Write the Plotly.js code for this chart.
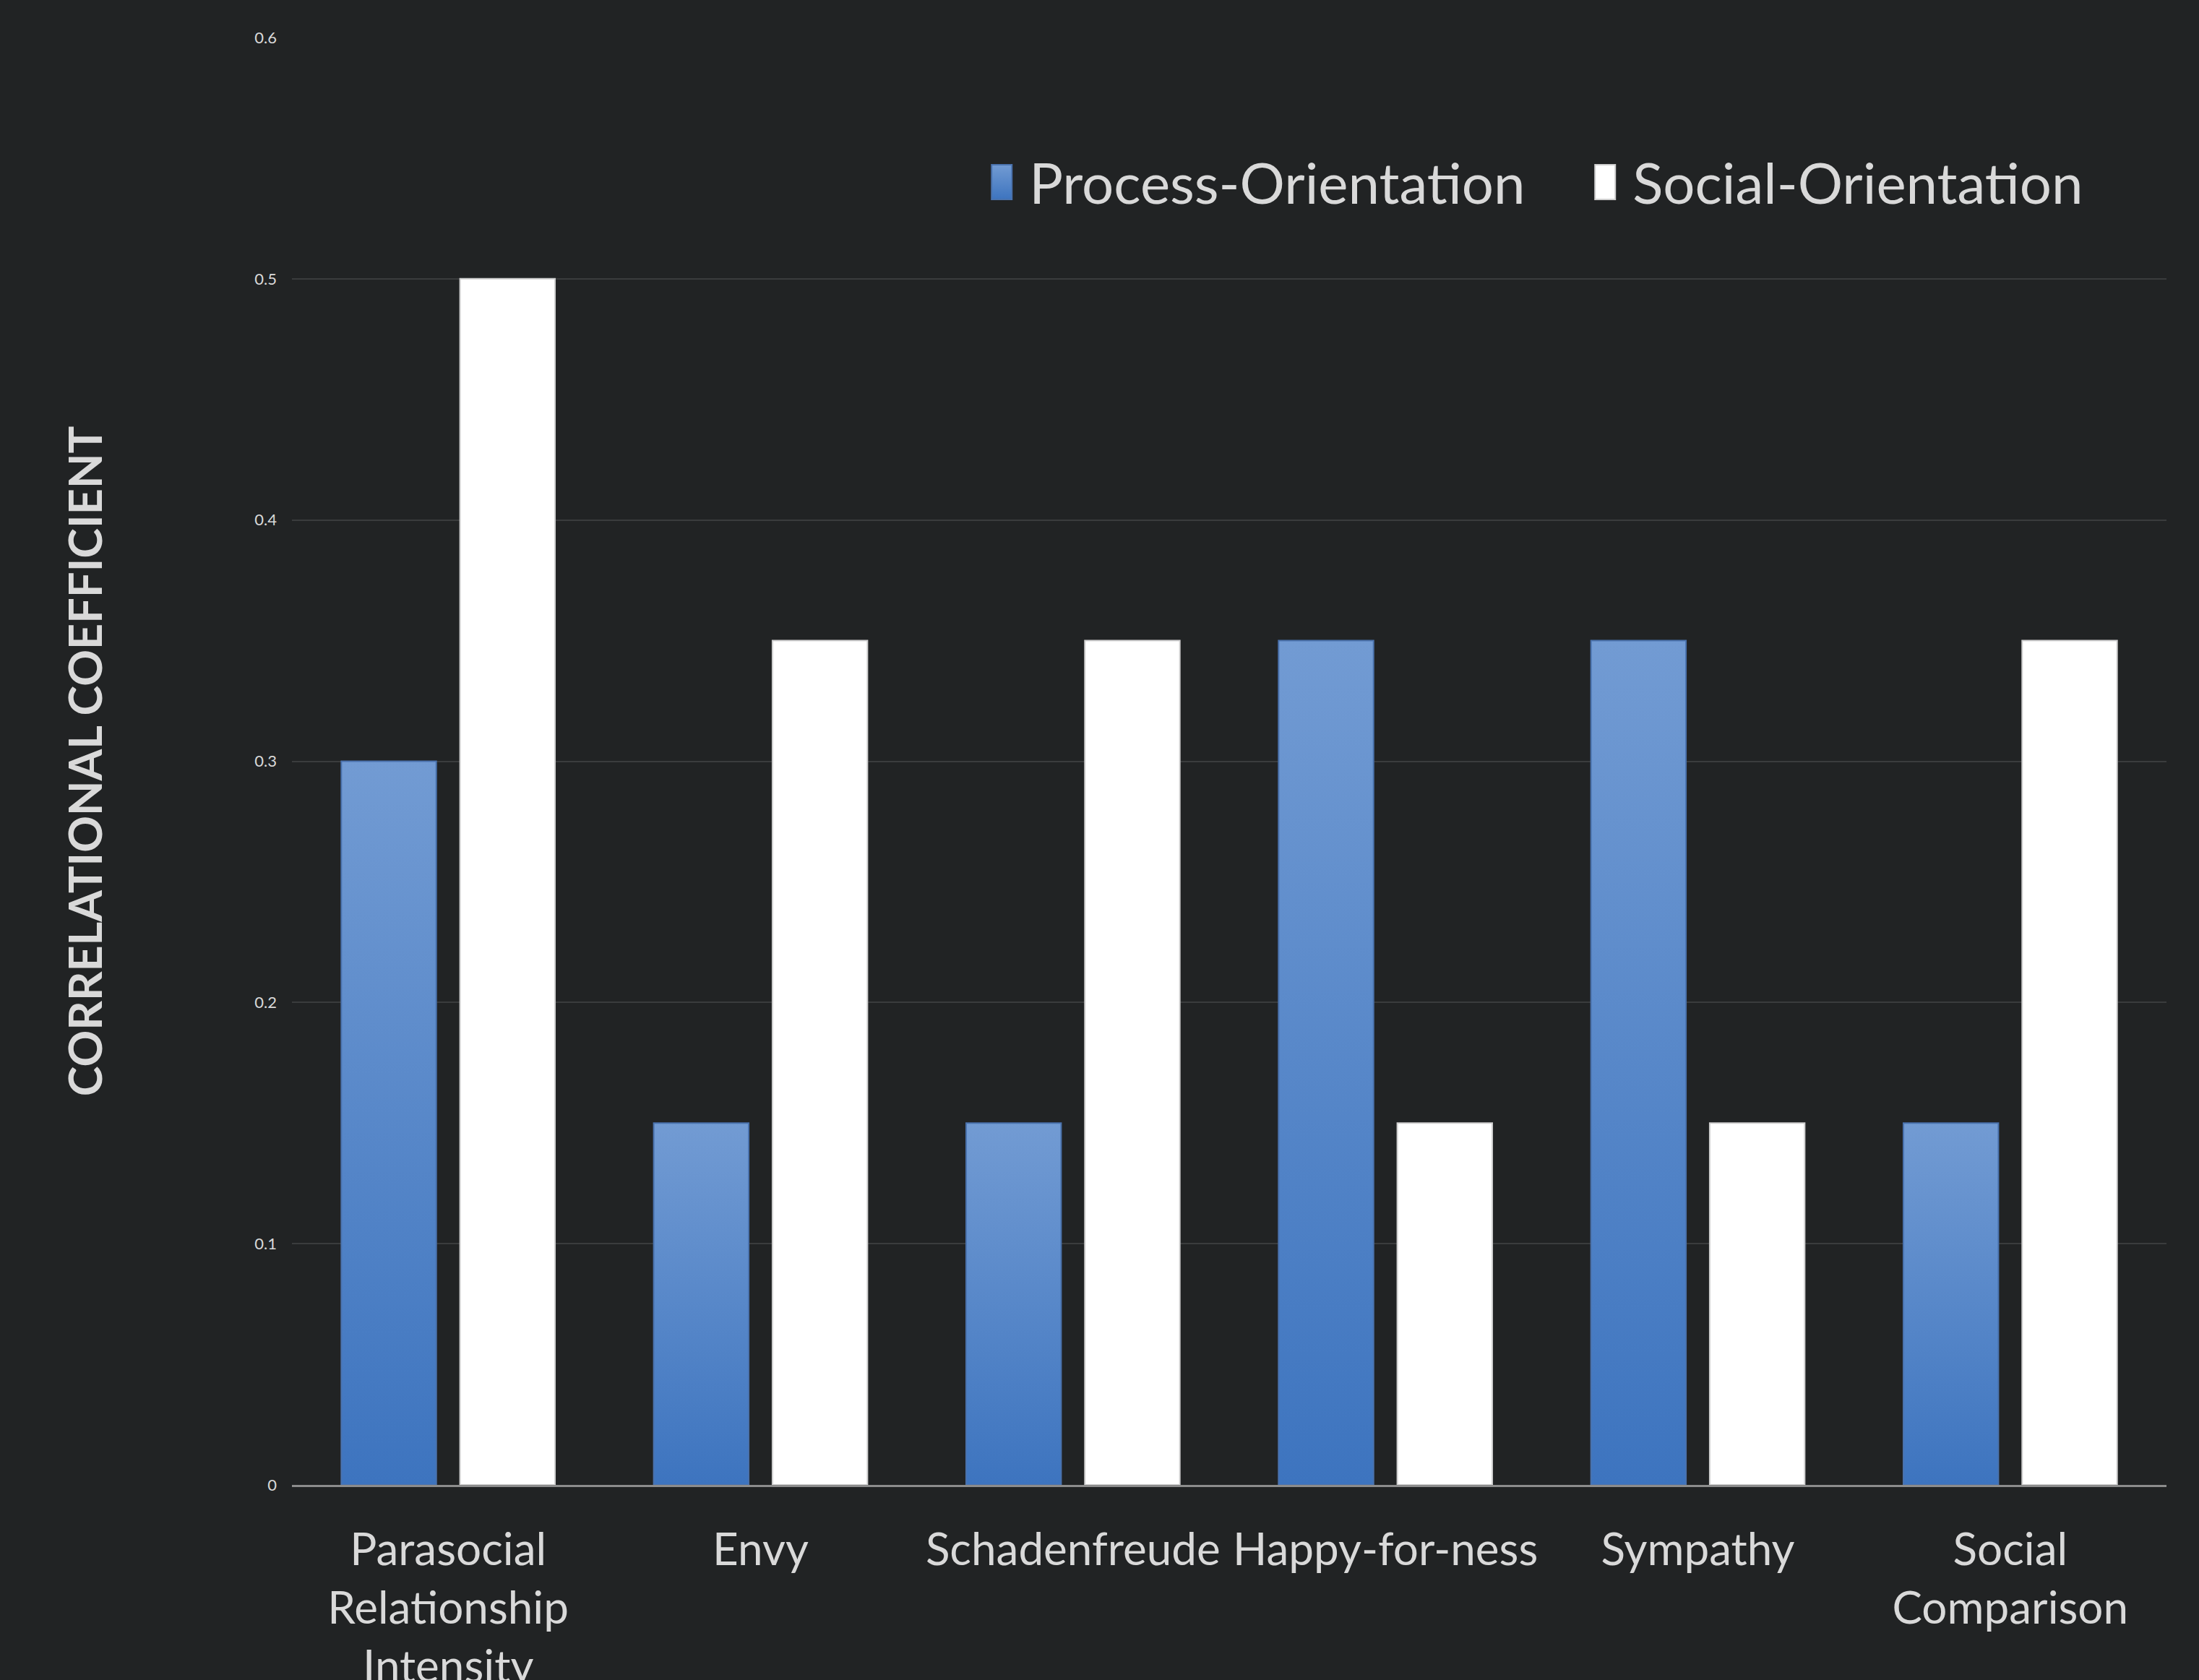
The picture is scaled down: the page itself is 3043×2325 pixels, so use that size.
<!DOCTYPE html>
<html>
<head>
<meta charset="utf-8">
<script src="https://cdn.plot.ly/plotly-3.0.1.min.js"></script>
<style>
  html, body { margin: 0; padding: 0; background: #212324; }
  #chart { width: 3043px; height: 2325px; }
</style>
</head>
<body>
<div id="chart"></div>
<script>
const categories = [
  "Parasocial<br>Relationship<br>Intensity",
  "Envy",
  "Schadenfreude",
  "Happy-for-ness",
  "Sympathy",
  "Social<br>Comparison"
];
const processOrientation = [0.30, 0.15, 0.15, 0.35, 0.35, 0.15];
const socialOrientation  = [0.50, 0.35, 0.35, 0.15, 0.15, 0.35];
const yTickValues = [0, 0.1, 0.2, 0.3, 0.4, 0.5, 0.6];
const yTickLabels = ["0", "0.1", "0.2", "0.3", "0.4", "0.5", "0.6"];

const textColor = "#d9d9d9";

const traces = [
  {
    type: "bar",
    name: "Process-Orientation",
    x: categories,
    y: processOrientation,
    marker: { color: "#5586c9", line: { color: "#4a72ad", width: 2 } },
    hoverinfo: "skip"
  },
  {
    type: "bar",
    name: "Social-Orientation",
    x: categories,
    y: socialOrientation,
    marker: { color: "#ffffff", line: { color: "#cfcfcf", width: 2 } },
    hoverinfo: "skip"
  }
];

const layout = {
  width: 3043,
  height: 2325,
  paper_bgcolor: "#212324",
  plot_bgcolor: "rgba(0,0,0,0)",
  margin: { l: 404, r: 45, t: 52, b: 270, pad: 0 },
  barmode: "group",
  bargap: 0.24,
  bargroupgap: 0.2,
  font: { family: "Lato, 'Open Sans', sans-serif", color: textColor },
  showlegend: true,
  legend: {
    orientation: "h",
    x: 0.364,
    xanchor: "left",
    y: 0.90,
    yanchor: "middle",
    bgcolor: "rgba(0,0,0,0)",
    font: { size: 78, color: textColor, family: "Lato, sans-serif" },
    itemwidth: 66,
    entrywidth: 754,
    traceorder: "normal"
  },
  xaxis: {
    type: "category",
    tickfont: { size: 62, color: textColor, family: "Lato, sans-serif" },
    showgrid: false,
    showline: true,
    linecolor: "#8c8c8c",
    linewidth: 3,
    ticks: "",
    ticklabelstandoff: 34,
    zeroline: false,
    fixedrange: true
  },
  yaxis: {
    range: [0, 0.6],
    tickvals: yTickValues,
    ticktext: yTickLabels,
    tickfont: { size: 22, color: textColor, family: "Lato, sans-serif" },
    showgrid: true,
    gridcolor: "#3a3c3d",
    gridwidth: 2,
    zeroline: false,
    showline: false,
    ticks: "",
    ticklabelstandoff: 20,
    title: {
      text: "CORRELATIONAL COEFFICIENT",
      font: { size: 63, color: textColor, family: "Lato, sans-serif", weight: "bold" },
      standoff: 190
    },
    fixedrange: true
  }
};

Plotly.newPlot("chart", traces, layout, { displayModeBar: false, staticPlot: true }).then(function (gd) {
  // apply a vertical gradient to the blue bars (styling only)
  const svg = gd.querySelector("svg.main-svg");
  const ns = "http://www.w3.org/2000/svg";
  let defs = svg.querySelector("defs");
  if (!defs) { defs = document.createElementNS(ns, "defs"); svg.insertBefore(defs, svg.firstChild); }
  const grad = document.createElementNS(ns, "linearGradient");
  grad.setAttribute("id", "blueGrad");
  grad.setAttribute("x1", "0"); grad.setAttribute("y1", "0");
  grad.setAttribute("x2", "0"); grad.setAttribute("y2", "1");
  [["0", "#729bd3"], ["1", "#3d74bf"]].forEach(function (s) {
    const st = document.createElementNS(ns, "stop");
    st.setAttribute("offset", s[0]);
    st.setAttribute("stop-color", s[1]);
    grad.appendChild(st);
  });
  defs.appendChild(grad);
  const barTraces = gd.querySelectorAll(".barlayer .trace.bars");
  if (barTraces.length) {
    barTraces[0].querySelectorAll("path").forEach(function (p) { p.style.fill = "url(#blueGrad)"; });
  }
  // legend swatches: taller rectangles like the original
  const legendTraces = gd.querySelectorAll(".legend .traces");
  legendTraces.forEach(function (t, i) {
    t.querySelectorAll(".legendpoints path").forEach(function (p) {
      p.setAttribute("d", "M14,24H-14V-24H14Z");
      if (i === 0) p.style.fill = "url(#blueGrad)";
    });
  });
});
</script>
</body>
</html>
